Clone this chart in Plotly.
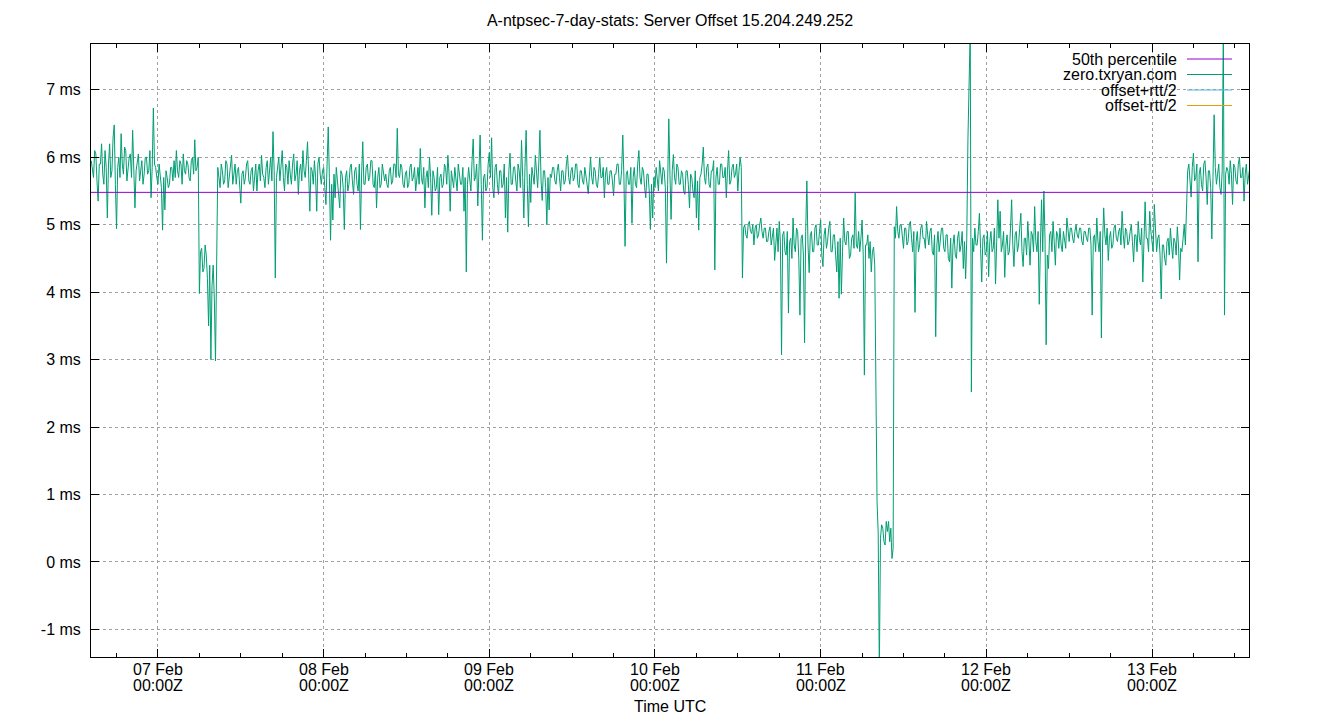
import pandas as pd
import plotly.graph_objects as go

# ---------------- data ----------------
start_time = "2025-02-06 14:20"
sample_step = "10min"

offset_ms = [
    # 06 Feb afternoon
    5.95, 5.8, 5.7, 6.1, 6.05, 5.65, 5.35, 5.9, 5.9, 6.2, 5.75, 5.6, 6.1, 5.85,
    5.1, 5.9, 6.2, 5.7, 5.8, 6.3, 6.48, 5.6, 4.94, 5.85, 6.0, 5.7, 6.35, 5.9,
    5.75, 6.15, 6.1, 5.65, 5.85, 6.0, 6.05, 5.7, 6.4, 5.9, 5.25, 5.8, 5.9, 6.05,
    5.65, 5.8, 5.95, 5.6, 5.75, 6.0, 6.0, 5.75, 5.8, 6.1, 5.4, 5.85, 6.73, 5.9,
    # 07 Feb early
    5.85, 5.7, 5.6, 5.9, 5.75, 5.55, 4.92, 5.7, 5.22, 5.8, 5.7, 5.55, 5.6, 5.85,
    5.85, 5.65, 5.95, 5.7, 6.1, 5.8, 5.7, 5.95, 5.9, 5.6, 6.05, 5.8, 5.75, 5.95,
    5.9, 5.7, 5.65, 5.95, 6.0, 5.75, 6.26, 5.8, 5.85, 6.0,
    # 07 Feb dip
    3.98, 4.6, 4.65, 4.3, 4.35, 4.7, 4.55, 4.2, 3.5, 4.4, 3.0, 4.1, 4.4, 3.9,
    2.98, 4.8,
    # 07 Feb rest
    5.85, 5.7, 5.55, 5.9, 5.8, 5.6, 5.65, 5.95, 5.9, 5.55, 5.7, 5.85, 6.03, 5.6,
    5.75, 5.9, 5.6, 5.8, 5.85, 5.55, 5.32, 5.75, 5.8, 5.6, 5.7, 5.9, 5.95, 5.65,
    5.6, 5.8, 5.85, 5.5, 5.75, 5.9, 5.5, 5.8, 5.9, 5.65, 6.03, 5.75, 5.7, 5.55,
    5.85, 5.95, 5.6, 5.8, 6.0, 5.65, 6.38, 5.8, 4.21, 5.7, 5.9, 6.0, 5.65, 5.85,
    6.1, 5.7, 5.5, 5.9, 5.85, 5.6, 5.95, 5.75, 5.6, 5.9, 6.05, 5.65, 5.75, 5.95,
    5.45, 5.8, 5.9, 5.65, 6.1, 5.8, 5.7, 5.95, 6.23, 5.75, 5.2, 5.85, 5.8, 5.6,
    5.95, 5.7, 5.2, 5.9, 6.0, 5.75,
    # 08 Feb early
    5.6, 5.8, 5.85, 5.55, 5.3, 5.9, 6.45, 5.7, 4.77, 5.6, 5.07, 5.75, 5.4, 5.85,
    5.65, 5.5, 5.25, 5.8, 5.75, 5.55, 4.93, 5.7, 5.8, 5.5, 5.6, 5.85, 5.9, 5.65,
    5.45, 5.8, 5.85, 5.6, 5.5, 5.9, 4.93, 5.75, 6.23, 5.6, 5.6, 5.85, 5.9, 5.65,
    5.7, 5.95, 5.95, 5.6, 5.55, 5.8, 5.25, 5.7, 5.85, 5.55, 5.6, 5.9, 5.8, 5.65,
    # 08 Feb rest
    5.75, 5.6, 5.55, 5.8, 5.85, 5.6, 5.65, 5.9, 5.9, 5.7, 6.43, 5.75, 5.7, 5.9,
    5.85, 5.6, 5.55, 5.75, 5.8, 5.55, 5.6, 5.85, 5.9, 5.65, 5.7, 5.85, 5.5, 5.75,
    5.85, 5.6, 6.13, 5.7, 5.6, 5.85, 5.25, 5.7, 5.8, 5.55, 6.0, 5.7, 5.14, 5.8,
    5.7, 5.5, 5.55, 5.85, 5.15, 5.7, 5.75, 5.55, 5.6, 5.9, 5.85, 5.6, 6.03, 5.75,
    5.2, 5.8, 5.7, 5.55, 5.85, 5.65, 5.5, 5.9, 5.75, 5.6, 5.6, 5.85, 5.2, 5.7,
    4.3, 5.6, 5.85, 5.7, 5.5, 5.95, 6.27, 5.65, 5.7, 5.9, 5.28, 5.8, 6.33, 5.6,
    4.77, 5.7, 5.75, 5.5, 5.55, 5.9, 6.07, 5.7, 6.29, 5.55, 5.4, 5.85, 5.9, 5.6,
    5.45, 5.8, 5.8, 5.55, 5.6, 5.9, 5.1, 5.7, 4.89, 5.8, 6.06, 5.6, 5.6, 5.85,
    5.86, 5.65, 5.5, 5.9, 5.8, 5.55, 6.25, 5.7, 5.1, 5.85, 6.4, 5.6, 4.97, 5.75,
    5.33, 5.85, 5.75, 5.6, 6.03, 5.7, 5.55, 5.9, 6.4, 5.65, 5.36, 5.8, 5.8, 5.55,
    5.0, 5.7, 5.22, 5.75,
    # 09 Feb
    5.7, 5.85, 5.85, 5.65, 5.6, 5.8, 5.9, 5.7, 5.5, 5.8, 5.8, 5.6, 5.65, 5.9,
    6.03, 5.7, 5.6, 5.8, 5.85, 5.65, 5.7, 5.9, 5.9, 5.6, 5.55, 5.8, 5.8, 5.65,
    5.6, 5.85, 5.75, 5.6, 5.46, 5.8, 6.0, 5.7, 5.6, 5.85, 5.8, 5.6, 5.55, 5.75,
    6.0, 5.7, 5.7, 5.85, 5.4, 5.75, 5.85, 5.6, 5.6, 5.8, 5.8, 5.65, 5.43, 5.75,
    5.75, 5.9, 5.9, 5.6, 5.6, 5.8, 6.33, 5.7, 4.68, 5.75, 5.8, 5.6, 5.6, 5.85,
    5.02, 5.7, 5.85, 5.6, 5.55, 5.9, 6.1, 5.7, 5.6, 5.85, 5.8, 5.55, 5.4, 5.75,
    5.75, 5.5, 4.93, 5.6, 5.1, 5.7, 5.55, 5.85, 5.7, 5.5, 5.95, 5.7, 5.6, 5.85,
    5.8, 5.55, 4.43, 5.6, 6.57, 5.75, 5.08, 5.8, 6.04, 5.7, 5.6, 5.9, 5.85, 5.6,
    5.6, 5.8, 5.75, 5.5, 5.45, 5.8, 5.8, 5.6, 5.25, 5.75, 5.7, 5.5, 5.4, 5.8,
    5.1, 5.65, 4.92, 5.7, 5.75, 5.9, 6.15, 5.7, 5.6, 5.85, 5.9, 5.6, 5.55, 5.8,
    5.8, 5.95, 4.33, 5.7, 5.85, 5.6, 5.6, 5.9, 5.9, 5.7, 5.7, 5.85, 5.4, 5.8,
    6.1, 5.6, 5.65, 5.85, 5.9, 5.7, 5.75, 5.9, 5.5, 5.8, 6.0, 5.85,
    # 10 Feb afternoon onwards
    4.21, 4.95, 5.0, 4.85, 4.8, 5.0, 5.05, 4.9, 4.87, 5.0, 4.7, 4.95, 5.0, 4.8,
    4.85, 5.0, 5.1, 4.9, 4.8, 4.95, 4.95, 4.75, 4.75, 4.9, 4.97, 4.7, 4.85, 4.95,
    4.47, 4.8, 4.95, 4.6, 5.05, 4.75, 3.07, 4.85, 4.9, 4.6, 4.55, 4.9, 3.69, 4.75,
    4.8, 4.5, 5.1, 4.7, 4.6, 4.95, 4.9, 4.5, 3.66, 4.8, 4.85, 4.55, 3.25, 4.9,
    5.65, 4.7, 4.29, 4.85, 4.9, 4.6, 4.6, 4.95, 5.0, 4.7, 4.7, 4.9, 5.07, 4.55,
    4.38, 4.85, 4.95, 4.65, 4.75, 4.95, 5.05, 4.6, 4.6, 4.85, 4.85, 4.55, 4.3, 4.75,
    3.91, 4.8, 3.97, 4.6, 5.1, 4.75, 4.7, 4.9, 4.9, 4.5, 4.55, 4.8, 4.85, 4.65,
    5.47, 4.7, 4.65, 4.9, 4.6, 4.8, 5.07, 4.55, 2.77, 4.7, 4.7, 4.85, 4.5, 4.75,
    4.3, 4.6,
    # 11 Feb drop
    4.67, 4.4, 1.93, 0.9, 0.43, -1.6, 0.35, 0.55, 0.5, 0.3, 0.25, 0.6, 0.45, 0.6,
    0.3, 0.5, 0.05, 0.2,
    # 11 Feb recovery
    4.97, 4.8, 5.27, 4.9, 4.8, 5.0, 5.0, 4.75, 4.65, 4.95, 4.95, 4.7, 4.75, 5.0,
    5.05, 4.8, 4.6, 4.9, 3.7, 4.75, 4.9, 4.6, 4.7, 4.95, 5.0, 4.8, 4.8, 4.65,
    5.05, 4.85, 4.7, 4.9, 4.95, 4.6, 4.55, 4.85, 3.34, 4.7, 4.9, 4.6, 4.75, 4.95,
    4.95, 4.65, 4.6, 4.85, 4.85, 4.5, 4.45, 4.8, 4.06, 4.7, 4.85, 4.55, 4.5, 4.8,
    4.9, 4.6, 4.7, 4.9, 4.35, 4.75, 4.2, 4.8,
    # 11 Feb spike
    6.26, 7.0, 7.9, 2.52,
    # 12 Feb
    4.8, 4.6, 4.95, 4.7, 4.7, 4.9, 5.17, 4.65, 4.15, 4.8, 4.85, 4.55, 4.6, 4.9,
    4.23, 4.75, 4.9, 4.6, 4.65, 4.95, 4.12, 4.75, 5.37, 4.8, 5.2, 4.6, 4.7, 4.9,
    4.22, 4.7, 4.85, 4.55, 4.6, 4.95, 5.37, 4.7, 4.38, 4.85, 4.9, 4.6, 4.7, 4.95,
    5.17, 4.6, 4.38, 4.8, 4.8, 4.55, 5.05, 4.75, 4.4, 4.9, 4.85, 4.6, 5.27, 4.75,
    4.6, 4.9, 3.82, 4.7, 5.37, 4.6, 5.5, 4.8, 3.22, 4.55, 4.35, 4.85, 4.9, 4.6,
    5.05, 4.75, 4.4, 4.9, 4.85, 4.65, 4.95, 4.7, 4.6, 4.9, 4.8, 4.65, 5.1, 4.85,
    4.75, 4.95, 4.95, 4.8, 4.73, 4.9, 5.0, 4.85, 4.8, 4.95, 4.95, 4.75, 4.7, 4.9,
    4.9, 4.8, 4.75, 4.95, 4.95, 4.7, 3.66, 4.8, 4.85, 4.6, 5.1, 4.75, 4.6, 4.9,
    3.32, 4.7, 5.25, 4.85, 4.7, 4.95, 4.47, 4.8, 4.9, 4.65, 4.7, 4.95, 5.0, 4.8,
    4.75, 4.9, 4.95, 4.7, 5.2, 4.85, 4.65, 4.95, 4.9, 4.7, 4.75, 4.9, 5.0, 4.75,
    4.45, 4.85, 4.85, 4.6, 5.05, 4.8, 4.7, 4.95, 4.15, 4.75, 5.34, 4.8, 4.8, 4.6,
    5.2, 4.9, 4.75, 4.6, 5.3, 4.85, 4.6, 4.8, 4.85, 4.55, 3.9, 4.7, 4.7, 4.5,
    4.4, 4.75, 4.8, 4.55, 4.95, 4.7, 4.5, 4.8, 4.75, 4.55, 4.97, 4.7, 4.18, 4.65,
    4.6, 4.8, 5.0, 4.7, 5.47, 5.8,
    # 13 Feb
    5.9, 5.6, 5.41, 5.85, 6.06, 5.65, 5.7, 5.9, 4.45, 5.75, 5.85, 5.6, 5.5, 5.9,
    5.95, 5.7, 5.3, 5.8, 5.8, 5.55, 4.79, 5.7, 6.63, 5.85, 5.6, 5.75, 5.9, 5.55,
    5.45, 5.8, 7.9, 3.66, 5.75, 5.85, 5.8, 5.6, 5.95, 5.75, 5.3, 5.9, 5.85, 5.65,
    5.6, 5.9, 6.0, 5.7, 5.7, 5.85, 5.35, 5.75, 5.9, 5.6, 5.75, 5.85,
]

p50_ms = 5.48

x_range = ["2025-02-06 14:18", "2025-02-13 14:03"]
y_range = [-1.41, 7.68]

y_tick_vals = [-1, 0, 1, 2, 3, 4, 5, 6, 7]
y_tick_text = ["-1 ms", "0 ms", "1 ms", "2 ms", "3 ms", "4 ms", "5 ms", "6 ms", "7 ms"]

x_tick_vals = ["2025-02-07", "2025-02-08", "2025-02-09", "2025-02-10",
               "2025-02-11", "2025-02-12", "2025-02-13"]
x_tick_day = ["07 Feb", "08 Feb", "09 Feb", "10 Feb", "11 Feb", "12 Feb", "13 Feb"]
x_tick_hour = "00:00Z"

legend_names = ["50th percentile", "zero.txryan.com", "offset+rtt/2", "offset-rtt/2"]
legend_colors = ["#9400d3", "#009e73", "#56b4e9", "#e69f00"]

title_text = "A-ntpsec-7-day-stats: Server Offset 15.204.249.252"
x_title = "Time UTC"

# ---------------- figure ----------------
W, H = 1340, 720
L, R, T, B = 91, 91, 44, 63
PW, PH = W - L - R, H - T - B


def px_x(px):
    return (px - L) / PW


def px_y(py):
    return (H - B - py) / PH


times = pd.date_range(start_time, periods=len(offset_ms), freq=sample_step)

FONT = "Liberation Sans, Arial, sans-serif"
FS = 16

fig = go.Figure()
fig.add_trace(go.Scatter(
    x=times, y=offset_ms, mode="lines",
    line=dict(color=legend_colors[1], width=1),
    showlegend=False, hoverinfo="skip",
))
fig.add_trace(go.Scatter(
    x=x_range, y=[p50_ms, p50_ms], mode="lines",
    line=dict(color=legend_colors[0], width=1),
    showlegend=False, hoverinfo="skip",
))

grid_style = dict(showgrid=True, gridcolor="#a0a0a0", gridwidth=1, griddash="3px,3px")

fig.update_layout(
    width=W, height=H,
    margin=dict(l=L, r=R, t=T, b=B, pad=0),
    paper_bgcolor="white", plot_bgcolor="white",
    font=dict(family=FONT, size=FS, color="black"),
    title=dict(text=title_text, x=0.5, xanchor="center", y=1 - 20 / H, yanchor="middle",
               font=dict(family=FONT, size=FS, color="black")),
    showlegend=False,
    xaxis=dict(
        type="date", range=x_range,
        tickmode="array", tickvals=x_tick_vals, showticklabels=False,
        ticks="inside", ticklen=8, tickcolor="black", tickwidth=1,
        minor=dict(tickmode="linear", tick0="2025-02-06", dtick=6 * 3600 * 1000,
                   ticks="inside", ticklen=4, tickcolor="black", showgrid=False),
        showline=True, linecolor="black", linewidth=1, mirror="ticks",
        zeroline=False, **grid_style,
    ),
    yaxis=dict(
        range=y_range,
        tickmode="array", tickvals=y_tick_vals, ticktext=y_tick_text,
        ticks="inside", ticklen=8, tickcolor="black", tickwidth=1,
        showline=True, linecolor="black", linewidth=1, mirror="ticks",
        zeroline=False, **grid_style, ticklabelstandoff=6,
        tickfont=dict(family=FONT, size=FS, color="black"),
    ),
)

# two-line x tick labels
for tv, day in zip(x_tick_vals, x_tick_day):
    for txt, row in ((day, 669), (x_tick_hour, 685)):
        fig.add_annotation(text=txt, xref="x", yref="paper", x=tv, y=px_y(row),
                           xanchor="center", yanchor="middle", valign="middle",
                           height=15, borderpad=0, showarrow=False,
                           font=dict(family=FONT, size=FS, color="black"))

# opaque key area
fig.add_shape(type="rect", xref="paper", yref="paper",
              x0=px_x(1046), x1=px_x(1242), y0=px_y(113), y1=px_y(47),
              fillcolor="white", line=dict(width=0), layer="between")

rows = [59, 74.5, 90, 105.5]
for name, color, row in zip(legend_names, legend_colors, rows):
    fig.add_annotation(text=name, xref="paper", yref="paper",
                       x=px_x(1179), y=px_y(row), xanchor="right", yanchor="middle",
                       showarrow=False, font=dict(family=FONT, size=FS, color="black"))
    fig.add_shape(type="line", xref="paper", yref="paper",
                  x0=px_x(1187), x1=px_x(1232), y0=px_y(row), y1=px_y(row),
                  line=dict(color=color, width=1))

fig.add_annotation(text=x_title, xref="paper", yref="paper",
                   x=0.5, y=px_y(706), xanchor="center", yanchor="middle",
                   showarrow=False, font=dict(family=FONT, size=FS, color="black"))

fig.write_html("out.html")
